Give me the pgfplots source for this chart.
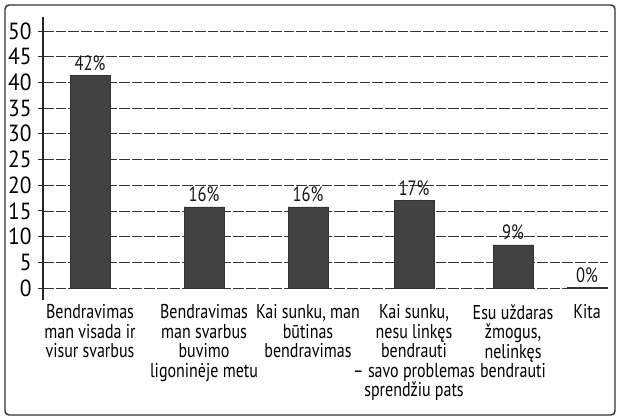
\documentclass[border=0pt]{standalone}
\usepackage{pgfplots}
\pgfplotsset{compat=1.18}
\usepackage{fontspec}
\setmainfont{PT Sans}[FakeStretch=0.8]
\newfontfamily\tickfont{PT Sans}[FakeStretch=0.92]

\begin{document}
\begin{tikzpicture}
% image is 620x419 px, 1 px = 0.75pt, axis origin at px (43,300)
\useasboundingbox (-32.25pt,-89.25pt) rectangle (432.75pt,225pt);
\begin{axis}[
  scale only axis,
  width=423.75pt, height=212.25pt,
  at={(0,0)}, anchor=south west,
  xmin=43, xmax=608,
  ymin=-2.33, ymax=52.72,
  axis lines*=left,
  x axis line style={draw=none},
  y axis line style={black!85, line width=0.8pt},
  ytick={0,5,...,50},
  xtick={90,204,308,414,513,587},
  xticklabels={
    {Bendravimas\\man visada ir\\visur svarbus},
    {Bendravimas\\man svarbus\\buvimo\\ligoninėje metu},
    {Kai sunku, man\\būtinas\\bendravimas},
    {Kai sunku,\\nesu linkęs\\bendrauti\\– savo problemas\\sprendžiu pats},
    {Esu uždaras\\žmogus,\\nelinkęs\\bendrauti},
    {Kita}},
  major x tick style={draw=none},
  tick align=outside,
  major tick length=4pt,
  y tick style={black!85, line width=0.7pt},
  ymajorgrids,
  grid style={black!80, line width=0.6pt, dash pattern=on 8pt off 1.5pt},
  /pgf/number format/assume math mode=true,
  yticklabel style={font=\tickfont\fontsize{17.5}{17}\selectfont, xshift=-1pt},
  xticklabel style={align=center, anchor=north, yshift=4pt,
    font=\fontsize{15}{14.6}\selectfont},
]
\addplot[ybar, bar width=40, fill=black!74, draw=black!80,
  point meta=explicit,
  nodes near coords={\pgfmathprintnumber{\pgfplotspointmeta}\%},
  every node near coord/.append style={font=\fontsize{15.5}{15}\selectfont,
    anchor=south, yshift=0pt, black!90}]
table[meta=p]{
x   y    p
90  41.4 42
204 15.8 16
308 15.8 16
414 17.1 17
513 8.4  9
587 0.1  0
};
\end{axis}
\draw[black!80, line width=1.1pt, rounded corners=3pt]
  (-28.5pt,-86.25pt) rectangle (429pt,221.25pt);
\end{tikzpicture}
\end{document}
